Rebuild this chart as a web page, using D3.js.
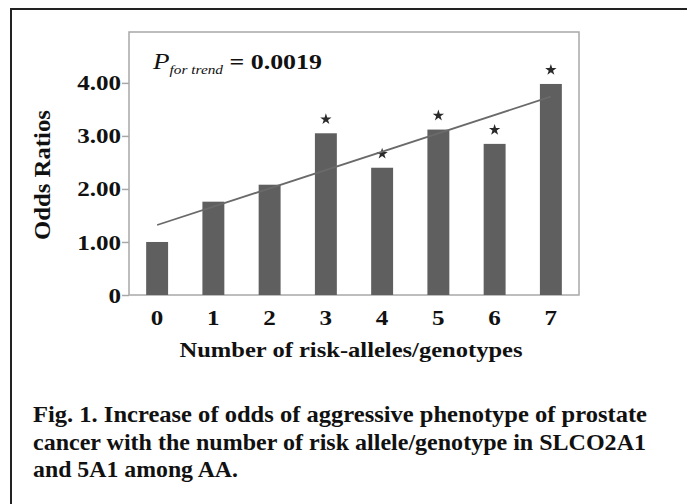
<!DOCTYPE html>
<html>
<head>
<meta charset="utf-8">
<script src="https://cdn.jsdelivr.net/npm/d3@7"></script>
<style>
  body { margin: 0; background: #fff; }
  svg text { font-family: "Liberation Serif", "Times New Roman", serif; }
</style>
</head>
<body>
<script>
// data
var categories = ["0", "1", "2", "3", "4", "5", "6", "7"];
var oddsRatios = [1.00, 1.76, 2.08, 3.05, 2.40, 3.12, 2.85, 3.98];
var significant = [false, false, false, true, true, true, true, true];
var yTicks = [0, 1, 2, 3, 4];
var yTickLabels = ["0", "1.00", "2.00", "3.00", "4.00"];
var trendEnds = [1.32, 3.74]; // fitted line value at first / last category
var captionLines = [
  "Fig. 1. Increase of odds of aggressive phenotype of prostate",
  "cancer with the number of risk allele/genotype in SLCO2A1",
  "and 5A1 among AA."
];

var svgWidth = 687, svgHeight = 504;

// the scanned figure is a bit wider than a plain Times face, so stretch text
function stretch(sel, k) {
  sel.each(function () {
    var w = this.getComputedTextLength();
    d3.select(this).attr("textLength", w * k).attr("lengthAdjust", "spacingAndGlyphs");
  });
}
function fitWidth(sel, w) {
  sel.attr("textLength", w).attr("lengthAdjust", "spacingAndGlyphs");
}

var svg = d3.select("body")
  .append("svg")
  .attr("width", svgWidth)
  .attr("height", svgHeight);

// outer frame (runs off the right and bottom of the picture)
svg.append("path")
  .attr("d", "M11,520 L11,9 L700,9")
  .attr("fill", "none")
  .attr("stroke", "#222")
  .attr("stroke-width", 2);

var plot = { left: 129, right: 579, top: 32, bottom: 295 };

var x = d3.scaleBand()
  .domain(categories)
  .range([plot.left, plot.right])
  .paddingInner(0.61)
  .paddingOuter(0.305);

var y = d3.scaleLinear()
  .domain([0, 4.96])
  .range([plot.bottom, plot.top]);

// plot box
svg.append("rect")
  .attr("x", plot.left)
  .attr("y", plot.top)
  .attr("width", plot.right - plot.left)
  .attr("height", plot.bottom - plot.top)
  .attr("fill", "none")
  .attr("stroke", "#a8a8a8")
  .attr("stroke-width", 1.5);

// y axis
var leftAxis = d3.axisLeft(y)
  .tickValues(yTicks)
  .tickSize(7)
  .tickPadding(1)
  .tickFormat((d, i) => yTickLabels[i]);

var yAxisG = svg.append("g")
  .attr("transform", `translate(${plot.left}, 0)`)
  .call(leftAxis);
yAxisG.select(".domain").remove();
yAxisG.selectAll(".tick line").attr("stroke", "#a8a8a8").attr("stroke-width", 1.5);
yAxisG.selectAll(".tick text")
  .attr("font-family", "Liberation Serif, serif")
  .attr("font-weight", "bold")
  .attr("font-size", "22px")
  .attr("fill", "#111")
  .call(stretch, 1.14);

// x axis labels
var bottomAxis = d3.axisBottom(x).tickSize(0).tickPadding(14);
var xAxisG = svg.append("g")
  .attr("transform", `translate(0, ${plot.bottom})`)
  .call(bottomAxis);
xAxisG.select(".domain").remove();
xAxisG.selectAll(".tick text")
  .attr("font-family", "Liberation Serif, serif")
  .attr("font-weight", "bold")
  .attr("font-size", "22px")
  .attr("fill", "#111")
  .call(stretch, 1.14);

// bars
svg.selectAll(".bar")
  .data(oddsRatios)
  .enter()
  .append("rect")
  .attr("class", "bar")
  .attr("x", (d, i) => x(categories[i]))
  .attr("y", d => y(d))
  .attr("width", x.bandwidth())
  .attr("height", d => y(0) - y(d))
  .attr("fill", "#5f5f5f");

// significance stars
svg.selectAll(".star")
  .data(oddsRatios)
  .enter()
  .filter((d, i) => significant[i])
  .append("path")
  .attr("class", "star")
  .attr("d", d3.symbol().type(d3.symbolStar).size(40))
  .attr("transform", function (d) {
    var i = oddsRatios.indexOf(d);
    return `translate(${x(categories[i]) + x.bandwidth() / 2}, ${y(d) - 14})`;
  })
  .attr("fill", "#2a2a2a");

// trend line
var cx = c => x(c) + x.bandwidth() / 2;
svg.append("line")
  .attr("x1", cx(categories[0]))
  .attr("y1", y(trendEnds[0]))
  .attr("x2", cx(categories[categories.length - 1]))
  .attr("y2", y(trendEnds[1]))
  .attr("stroke", "#6a6a6a")
  .attr("stroke-width", 1.8);

// P for trend annotation
var ptext = svg.append("text")
  .attr("x", 153)
  .attr("y", 69)
  .attr("fill", "#111");
ptext.append("tspan")
  .attr("font-style", "italic")
  .attr("font-size", "23px")
  .text("P");
ptext.append("tspan")
  .attr("font-style", "italic")
  .attr("font-size", "13px")
  .attr("dy", 5)
  .text("for trend");
ptext.append("tspan")
  .attr("font-weight", "bold")
  .attr("font-size", "22px")
  .attr("dy", -5)
  .text(" = 0.0019");
fitWidth(ptext, 169);

// axis titles
svg.append("text")
  .attr("transform", "rotate(-90)")
  .attr("x", -175)
  .attr("y", 50)
  .attr("text-anchor", "middle")
  .attr("font-weight", "bold")
  .attr("font-size", "23px")
  .attr("fill", "#111")
  .text("Odds Ratios")
  .call(fitWidth, 130);

svg.append("text")
  .attr("x", 351)
  .attr("y", 357)
  .attr("text-anchor", "middle")
  .attr("font-weight", "bold")
  .attr("font-size", "22px")
  .attr("fill", "#111")
  .text("Number of risk-alleles/genotypes")
  .call(fitWidth, 343);

// caption
var captionWidths = [614, 613, 205];
svg.selectAll(".caption")
  .data(captionLines)
  .enter()
  .append("text")
  .attr("class", "caption")
  .attr("x", 33)
  .attr("y", (d, i) => 422 + i * 27.5)
  .attr("font-weight", "bold")
  .attr("font-size", "23px")
  .attr("fill", "#111")
  .attr("textLength", (d, i) => captionWidths[i])
  .attr("lengthAdjust", "spacingAndGlyphs")
  .text(d => d);
</script>
</body>
</html>
